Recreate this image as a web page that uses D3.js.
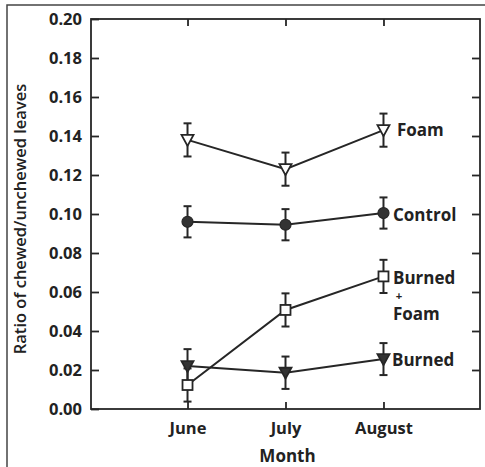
<!DOCTYPE html>
<html><head><meta charset="utf-8">
<script src="https://cdn.jsdelivr.net/npm/d3@7"></script>
<style>body{margin:0;background:#fff}svg{display:block}</style>
</head><body>
<svg id="c" width="485" height="467"></svg>
<script>
const months = ["June","July","August"];
const yTicks = [0,0.02,0.04,0.06,0.08,0.10,0.12,0.14,0.16,0.18,0.20];
const foam = [0.138,0.123,0.143];
const foamErr = [0.0085,0.0085,0.0085];
const control = [0.096,0.0945,0.1005];
const controlErr = [0.008,0.008,0.008];
const burnedFoam = [0.0123,0.0508,0.068];
const burnedFoamErr = [0.0085,0.0085,0.0085];
const burned = [0.022,0.0186,0.0256];
const burnedErr = [0.0087,0.0083,0.0082];
const seriesNames = ["Foam","Control","Burned\n+\nFoam","Burned"];

const svg = d3.select("#c");
const ink = "#262626";
const L=91, R=480, T=19, B=409;
const x = d3.scalePoint().domain(months).range([L,R]).padding(0.985);
const y = d3.scaleLinear().domain([0,0.20]).range([B,T]);

// outer frame
svg.append("path").attr("d",`M7,470V5H490`).attr("fill","none").attr("stroke","#444").attr("stroke-width",1.5);

// plot frame
svg.append("rect").attr("x",L).attr("y",T).attr("width",R-L).attr("height",B-T)
  .attr("fill","none").attr("stroke",ink).attr("stroke-width",1.8);

const fontB = "'Open Sans', sans-serif";
// left axis
const ga = svg.append("g").attr("transform",`translate(${L},0)`)
  .call(d3.axisLeft(y).tickValues(yTicks).tickFormat(d3.format(".2f")).tickSizeInner(-8).tickSizeOuter(0).tickPadding(9));
ga.select(".domain").remove();
ga.selectAll("line").attr("stroke",ink).attr("stroke-width",1.8);
ga.selectAll("text").attr("font-family",fontB).attr("font-weight","bold").attr("font-size",16.5).attr("fill","#222");
// right ticks
const gr = svg.append("g").attr("transform",`translate(${R},0)`)
  .call(d3.axisRight(y).tickValues(yTicks.slice(1,-1)).tickFormat("").tickSizeInner(-8).tickSizeOuter(0));
gr.select(".domain").remove();
gr.selectAll("line").attr("stroke",ink).attr("stroke-width",1.8);
// bottom axis
const gb = svg.append("g").attr("transform",`translate(0,${B})`)
  .call(d3.axisBottom(x).tickSizeInner(-7).tickSizeOuter(0).tickPadding(13));
gb.select(".domain").remove();
gb.selectAll("line").attr("stroke",ink).attr("stroke-width",1.8);
gb.selectAll("text").attr("font-family",fontB).attr("font-weight","bold").attr("font-size",16.5).attr("fill","#222");
// top ticks
const gt = svg.append("g").attr("transform",`translate(0,${T})`)
  .call(d3.axisTop(x).tickFormat("").tickSizeInner(-7).tickSizeOuter(0));
gt.select(".domain").remove();
gt.selectAll("line").attr("stroke",ink).attr("stroke-width",1.8);

// axis titles
svg.append("text").attr("transform",`translate(26,219) rotate(-90)`).attr("text-anchor","middle")
  .attr("font-family",fontB).attr("font-size",16.5).attr("font-weight",600).attr("fill","#222")
  .text("Ratio of chewed/unchewed leaves");
svg.append("text").attr("x",x("July")+2).attr("y",462).attr("text-anchor","middle")
  .attr("font-family",fontB).attr("font-size",17).attr("font-weight","bold").attr("fill","#222").text("Month");

const series = [
  {vals:foam, err:foamErr, mark:"triOpen"},
  {vals:control, err:controlErr, mark:"circle"},
  {vals:burnedFoam, err:burnedFoamErr, mark:"square"},
  {vals:burned, err:burnedErr, mark:"triFill"}
];
const line = d3.line().x((d,i)=>x(months[i])).y(d=>y(d));
series.forEach(s=>{
  const g = svg.append("g");
  g.append("path").attr("d",line(s.vals)).attr("fill","none").attr("stroke",ink).attr("stroke-width",2);
  s.vals.forEach((v,i)=>{
    const cx=x(months[i]);
    const y1=y(v+s.err[i]), y0=y(v-s.err[i]);
    g.append("line").attr("x1",cx).attr("x2",cx).attr("y1",y1).attr("y2",y0).attr("stroke",ink).attr("stroke-width",2);
    [y1,y0].forEach(yy=>g.append("line").attr("x1",cx-4).attr("x2",cx+4).attr("y1",yy).attr("y2",yy).attr("stroke",ink).attr("stroke-width",2));
  });
});
series.forEach(s=>{
  s.vals.forEach((v,i)=>{
    const cx=x(months[i]), cy=y(v);
    if(s.mark==="circle"){
      svg.append("circle").attr("cx",cx).attr("cy",cy).attr("r",5.5).attr("fill","#333").attr("stroke",ink).attr("stroke-width",1.2);
    } else if(s.mark==="square"){
      svg.append("rect").attr("x",cx-5).attr("y",cy-5).attr("width",10).attr("height",10).attr("fill","#fff").attr("stroke",ink).attr("stroke-width",1.8);
    } else {
      const p = `M${cx-6},${cy-5}L${cx+6},${cy-5}L${cx},${cy+6}Z`;
      svg.append("path").attr("d",p).attr("fill",s.mark==="triFill"?"#333":"#fff").attr("stroke",ink).attr("stroke-width",1.8);
    }
  });
});

// series labels
const lab = (t,xx,yy,fs)=>svg.append("text").attr("x",xx).attr("y",yy).attr("font-family",fontB)
  .attr("font-weight","bold").attr("font-size",fs||17).attr("fill","#222").text(t);
const names = seriesNames;
lab(names[0], 397, 136);
lab(names[1], 393, 221);
const bf = names[2].split("\n");
lab(bf[0], 393, 283.5);
svg.append("text").attr("x",399).attr("y",299.5).attr("text-anchor","middle").attr("font-family","'Liberation Sans', sans-serif")
  .attr("font-weight","bold").attr("font-size",11).attr("fill","#222").text(bf[1]);
lab(bf[2], 393, 320);
lab(names[3], 392, 366);
</script>
</body></html>
